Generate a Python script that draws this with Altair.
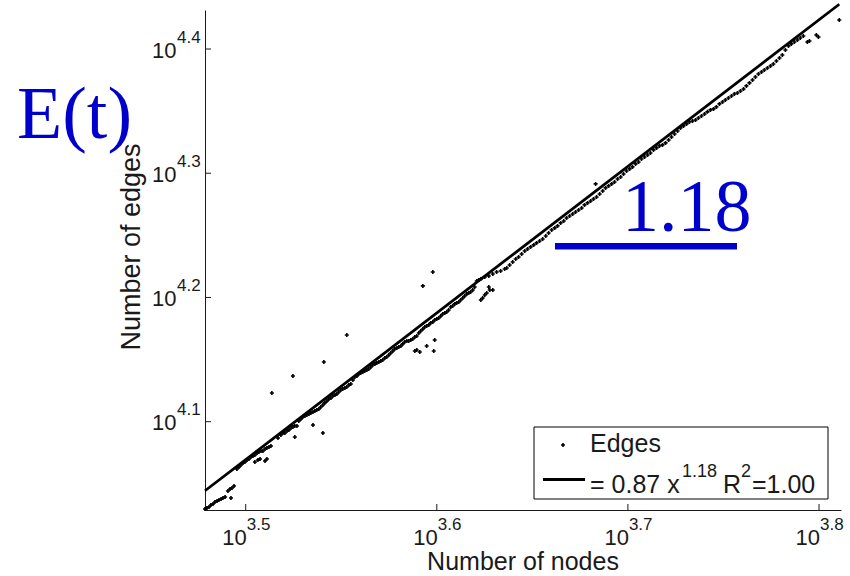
import altair as alt
import pandas as pd

# ---------------------------------------------------------------------------
# Growth snapshots: log10(number of nodes) and log10(number of edges)
# ---------------------------------------------------------------------------
early_nodes = [3.4787, 3.4797, 3.4808, 3.4818, 3.4829, 3.4839, 3.4850, 3.4860,
               3.4871, 3.4881, 3.4892, 3.4907, 3.4918, 3.4928, 3.4939, 3.4923]
early_edges = [4.0297, 4.0305, 4.0313, 4.0329, 4.0337, 4.0353, 4.0361, 4.0370,
               4.0378, 4.0386, 4.0394, 4.0442, 4.0458, 4.0466, 4.0482, 4.0386]

phase2_nodes = [3.4954, 3.4965, 3.4975, 3.4986, 3.4996, 3.5007, 3.5017, 3.5027,
                3.5038, 3.5048, 3.5059, 3.5069, 3.5080, 3.5090, 3.5101, 3.5111,
                3.5122, 3.5132, 3.5064, 3.5075, 3.5101, 3.5111, 3.5048]
phase2_edges = [4.0619, 4.0635, 4.0651, 4.0667, 4.0675, 4.0692, 4.0700, 4.0716,
                4.0724, 4.0732, 4.0748, 4.0756, 4.0764, 4.0764, 4.0780, 4.0788,
                4.0796, 4.0804, 4.0692, 4.0700, 4.0684, 4.0700, 4.0675]

phase3_nodes = [3.5169, 3.5184, 3.5195, 3.5205, 3.5216, 3.5226, 3.5237, 3.5247,
                3.5257, 3.5268, 3.5278, 3.5289, 3.5299, 3.5310, 3.5320, 3.5331,
                3.5341, 3.5352, 3.5362, 3.5372, 3.5383, 3.5393, 3.5257, 3.5352,
                3.5404]
phase3_edges = [4.0869, 4.0893, 4.0909, 4.0909, 4.0925, 4.0933, 4.0949, 4.0957,
                4.0965, 4.0965, 4.1006, 4.1022, 4.1038, 4.1046, 4.1054, 4.1062,
                4.1070, 4.1078, 4.1086, 4.1094, 4.1102, 4.1118, 4.0877, 4.0973,
                4.0909]

phase4_nodes = [3.5404, 3.5414, 3.5425, 3.5435, 3.5446, 3.5456, 3.5467, 3.5477,
                3.5487, 3.5498, 3.5508, 3.5519, 3.5529, 3.5540, 3.5550, 3.5561,
                3.5571, 3.5582, 3.5592, 3.5602, 3.5613, 3.5623, 3.5634]
phase4_edges = [4.1134, 4.1151, 4.1167, 4.1183, 4.1191, 4.1207, 4.1215, 4.1223,
                4.1239, 4.1255, 4.1263, 4.1271, 4.1279, 4.1295, 4.1303, 4.1336,
                4.1360, 4.1368, 4.1384, 4.1392, 4.1400, 4.1408, 4.1416]

phase5_nodes = [3.5644, 3.5655, 3.5665, 3.5676, 3.5686, 3.5697, 3.5707, 3.5717,
                3.5728, 3.5738, 3.5749, 3.5759, 3.5770, 3.5780, 3.5791, 3.5801,
                3.5812, 3.5822, 3.5832, 3.5843, 3.5853, 3.5864, 3.5874, 3.5885,
                3.5895, 3.5906, 3.5916, 3.5927, 3.5937, 3.5947, 3.5958, 3.5968,
                3.5979, 3.5989, 3.6000, 3.6010]
phase5_edges = [4.1424, 4.1440, 4.1456, 4.1464, 4.1473, 4.1481, 4.1489, 4.1497,
                4.1513, 4.1521, 4.1537, 4.1553, 4.1569, 4.1585, 4.1593, 4.1601,
                4.1609, 4.1626, 4.1642, 4.1650, 4.1650, 4.1658, 4.1666, 4.1682,
                4.1690, 4.1714, 4.1730, 4.1746, 4.1762, 4.1770, 4.1779, 4.1795,
                4.1803, 4.1819, 4.1827, 4.1835]

outlier_nodes = [3.5979, 3.5927, 3.5529, 3.5409, 3.5247, 3.5137, 3.5989, 3.5984,
                 3.5947, 3.5895, 3.5911, 3.5885]
outlier_edges = [4.2205, 4.2093, 4.1698, 4.1481, 4.1368, 4.1231, 4.1658, 4.1569,
                 4.1609, 4.1577, 4.1561, 4.1569]

phase6_nodes = [3.6021, 3.6031, 3.6042, 3.6052, 3.6062, 3.6073, 3.6083, 3.6094,
                3.6104, 3.6115, 3.6125, 3.6136, 3.6146, 3.6157, 3.6167, 3.6177,
                3.6188, 3.6198, 3.6209, 3.6219, 3.6230, 3.6230, 3.6240, 3.6251,
                3.6261, 3.6277, 3.6293, 3.6272, 3.6251, 3.6272, 3.6293, 3.6313,
                3.6334, 3.6355, 3.6366, 3.6381, 3.6397, 3.6413, 3.6428]
phase6_edges = [4.1851, 4.1867, 4.1875, 4.1883, 4.1899, 4.1923, 4.1931, 4.1948,
                4.1956, 4.1964, 4.1980, 4.1996, 4.2012, 4.2028, 4.2036, 4.2044,
                4.2060, 4.2084, 4.2133, 4.2141, 4.2149, 4.1980, 4.1996, 4.2020,
                4.2036, 4.2060, 4.2060, 4.2084, 4.2165, 4.2173, 4.2189, 4.2205,
                4.2213, 4.2229, 4.2237, 4.2261, 4.2286, 4.2310, 4.2326]

phase7_nodes = [3.6444, 3.6460, 3.6475, 3.6491, 3.6507, 3.6522, 3.6538, 3.6554,
                3.6570, 3.6585, 3.6601, 3.6617, 3.6632, 3.6648, 3.6664, 3.6679,
                3.6695, 3.6711, 3.6726, 3.6742, 3.6758, 3.6773, 3.6789, 3.6805,
                3.6820, 3.6836, 3.6852, 3.6831]
phase7_edges = [4.2350, 4.2374, 4.2390, 4.2407, 4.2423, 4.2439, 4.2455, 4.2471,
                4.2495, 4.2519, 4.2543, 4.2560, 4.2576, 4.2600, 4.2616, 4.2640,
                4.2656, 4.2672, 4.2688, 4.2704, 4.2720, 4.2745, 4.2761, 4.2777,
                4.2793, 4.2809, 4.2833, 4.2914]

phase8_nodes = [3.6868, 3.6883, 3.6899, 3.6915, 3.6930, 3.6946, 3.6962, 3.6977,
                3.6993, 3.7009, 3.7024, 3.7040, 3.7056, 3.7071, 3.7087, 3.7103,
                3.7118, 3.7134, 3.7150, 3.7165, 3.7181, 3.7197, 3.7213, 3.7228,
                3.7244, 3.7260, 3.7275, 3.7291, 3.7307, 3.7322, 3.7338, 3.7354,
                3.7369]
phase8_edges = [4.2857, 4.2882, 4.2898, 4.2914, 4.2930, 4.2954, 4.2970, 4.2994,
                4.3018, 4.3035, 4.3051, 4.3075, 4.3091, 4.3115, 4.3131, 4.3147,
                4.3163, 4.3188, 4.3204, 4.3220, 4.3228, 4.3244, 4.3268, 4.3292,
                4.3316, 4.3340, 4.3365, 4.3381, 4.3397, 4.3413, 4.3421, 4.3429,
                4.3445]

late_nodes = [3.7385, 3.7401, 3.7416, 3.7432, 3.7448, 3.7463, 3.7479, 3.7495,
              3.7510, 3.7526, 3.7542, 3.7557, 3.7573, 3.7589, 3.7605, 3.7620,
              3.7636, 3.7652, 3.7667, 3.7683, 3.7699, 3.7714, 3.7730, 3.7746,
              3.7761, 3.7777, 3.7793, 3.7808, 3.7824, 3.7840, 3.7855, 3.7871,
              3.7887, 3.7902, 3.7918, 3.7939, 3.7950, 3.7986, 3.7997, 3.8106]
late_edges = [4.3461, 4.3477, 4.3494, 4.3510, 4.3518, 4.3534, 4.3558, 4.3574,
              4.3590, 4.3606, 4.3622, 4.3638, 4.3646, 4.3662, 4.3678, 4.3703,
              4.3727, 4.3751, 4.3775, 4.3799, 4.3815, 4.3831, 4.3847, 4.3863,
              4.3879, 4.3904, 4.3928, 4.3952, 4.3992, 4.4025, 4.4041, 4.4057,
              4.4073, 4.4089, 4.4105, 4.4057, 4.4065, 4.4113, 4.4097, 4.4234]

# Power-law fit E = a * N^b
FIT_COEF = 0.87
FIT_POWER = 1.18
FIT_R2 = 1.00

# Axis limits and ticks (decimal exponents)
X_LIMITS = [3.4787, 3.8115]
Y_LIMITS = [4.0289, 4.4314]
X_TICKS = [3.5, 3.6, 3.7, 3.8]
Y_TICKS = [4.1, 4.2, 4.3, 4.4]

# ---------------------------------------------------------------------------
W, H = 636, 500
SANS = "Liberation Sans"
SERIF = "Liberation Serif"
INK = "#1a1a1a"
BLUE = "#0000CC"

segments = [
    (early_nodes, early_edges), (phase2_nodes, phase2_edges),
    (phase3_nodes, phase3_edges), (phase4_nodes, phase4_edges),
    (phase5_nodes, phase5_edges), (outlier_nodes, outlier_edges),
    (phase6_nodes, phase6_edges), (phase7_nodes, phase7_edges),
    (phase8_nodes, phase8_edges), (late_nodes, late_edges),
]
points = pd.concat(
    [pd.DataFrame({"n_exp": n, "e_exp": e}) for n, e in segments],
    ignore_index=True,
)
points["nodes"] = 10 ** points["n_exp"]
points["edges"] = 10 ** points["e_exp"]

fit = pd.DataFrame({"nodes": [points["nodes"].min(), points["nodes"].max()]})
fit["edges"] = FIT_COEF * fit["nodes"] ** FIT_POWER

x_scale = alt.Scale(type="log", domain=[10 ** X_LIMITS[0], 10 ** X_LIMITS[1]], nice=False)
y_scale = alt.Scale(type="log", domain=[10 ** Y_LIMITS[0], 10 ** Y_LIMITS[1]], nice=False)
x_axis = alt.Axis(title=None, labels=False, ticks=False, grid=False,
                  domainColor=INK, domainWidth=1)
y_axis = alt.Axis(title=None, labels=False, ticks=False, grid=False,
                  domainColor=INK, domainWidth=1)

X = lambda f: alt.X(f, type="quantitative", scale=x_scale, axis=x_axis)
Y = lambda f: alt.Y(f, type="quantitative", scale=y_scale, axis=y_axis)

scatter = alt.Chart(points).mark_point(
    shape="cross", filled=True, size=16, color="black", opacity=1, strokeWidth=0
).encode(x=X("nodes"), y=Y("edges"))

fit_line = alt.Chart(fit).mark_line(color="black", strokeWidth=2.8).encode(
    x=X("nodes"), y=Y("edges"))

xt = pd.DataFrame({"v": [10 ** t for t in X_TICKS], "exp": [f"{t:.1f}" for t in X_TICKS]})
yt = pd.DataFrame({"v": [10 ** t for t in Y_TICKS], "exp": [f"{t:.1f}" for t in Y_TICKS]})

# inward-pointing ticks
x_ticks = alt.Chart(xt).mark_rule(color=INK, strokeWidth=1).encode(
    x=X("v"), y=alt.value(H), y2=alt.value(H - 6))
y_ticks = alt.Chart(yt).mark_rule(color=INK, strokeWidth=1).encode(
    y=Y("v"), x=alt.value(0), x2=alt.value(6))

# "10^e" tick labels
x_lab_base = alt.Chart(xt).mark_text(align="right", baseline="alphabetic", fontSize=22,
                                     font=SANS, color=INK, dx=1).encode(
    x=X("v"), y=alt.value(H + 35), text=alt.value("10"))
x_lab_exp = alt.Chart(xt).mark_text(align="left", baseline="alphabetic", fontSize=17,
                                    font=SANS, color=INK, dx=1).encode(
    x=X("v"), y=alt.value(H + 20), text="exp:N")
y_lab_base = alt.Chart(yt).mark_text(align="right", baseline="alphabetic", fontSize=22,
                                     font=SANS, color=INK, dy=8.7).encode(
    y=Y("v"), x=alt.value(-28.5), text=alt.value("10"))
y_lab_exp = alt.Chart(yt).mark_text(align="left", baseline="alphabetic", fontSize=17,
                                    font=SANS, color=INK, dy=-6.3).encode(
    y=Y("v"), x=alt.value(-28), text="exp:N")

one = alt.Data(values=[{}])


def label(text, x, y, size, font=SANS, color=INK, align="left", angle=0):
    kw = dict(align=align, baseline="alphabetic", fontSize=size, font=font, color=color)
    if angle:
        kw["angle"] = angle
    return alt.Chart(one).mark_text(**kw).encode(
        x=alt.value(x), y=alt.value(y), text=alt.value(text))


x_title = label("Number of nodes", W / 2, H + 60, 25, align="center")
y_title = label("Number of edges", -65, 237, 27, align="center", angle=270)

# legend
legend_box = alt.Chart(one).mark_rect(fill="white", stroke="black", strokeWidth=1).encode(
    x=alt.value(329), x2=alt.value(623), y=alt.value(417), y2=alt.value(489))
legend_dot = alt.Chart(one).mark_point(
    shape="cross", filled=True, size=16, color="black", opacity=1, strokeWidth=0
).encode(x=alt.value(358), y=alt.value(435))
legend_line = alt.Chart(one).mark_rule(color="black", strokeWidth=3).encode(
    x=alt.value(338), x2=alt.value(380), y=alt.value(469.5))
legend_texts = [
    label("Edges", 385, 442, 25),
    label(f"= {FIT_COEF:.2f} x", 385, 483, 25),
    label(f"{FIT_POWER:.2f}", 477, 467, 18),
    label("R", 518, 483, 25),
    label("2", 536, 467, 18),
    label(f"={FIT_R2:.2f}", 547, 483, 25),
]

# slope annotation
big_e = label("E(t)", -188, 128, 74, font=SERIF, color=BLUE)
slope_text = label(f"{FIT_POWER:.2f}", 417, 221, 74, font=SERIF, color=BLUE)
slope_bar = alt.Chart(one).mark_rect(color=BLUE).encode(
    x=alt.value(350), x2=alt.value(532), y=alt.value(233), y2=alt.value(239.5))

chart = alt.layer(
    scatter, fit_line, x_ticks, y_ticks, x_lab_base, x_lab_exp, y_lab_base, y_lab_exp,
    x_title, y_title, legend_box, legend_dot, legend_line, *legend_texts,
    big_e, slope_bar, slope_text,
).properties(
    width=W, height=H,
    autosize=alt.AutoSizeParams(type="none"),
    padding={"left": 205, "top": 10, "right": 9, "bottom": 66},
    background="white",
).configure_view(stroke=None)

chart.save("out.html", embed_options={"renderer": "svg", "actions": False})
